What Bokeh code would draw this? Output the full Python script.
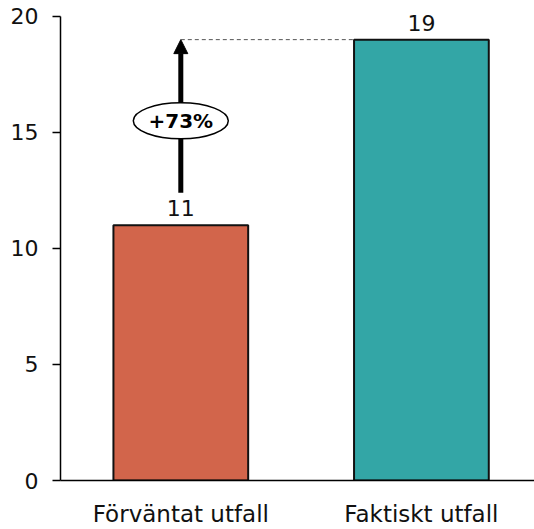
from bokeh.plotting import figure
from bokeh.models import Range1d, FixedTicker, Arrow, NormalHead, ColumnDataSource, LabelSet
from bokeh.core.properties import value
from bokeh.embed import file_html
from bokeh.resources import INLINE

categories = ["Förväntat utfall", "Faktiskt utfall"]
values = [11, 19]
colors = ["#D2654B", "#33A6A6"]
change_label = "+73%"
y_ticks = [0, 5, 10, 15, 20]

FONT = "DejaVu Sans"

xs = [i + 0.5 for i in range(len(categories))]
bar_width = 0.56

# a little headroom above 20 so the top value label is not clipped
p = figure(width=534, height=529, output_backend="svg", toolbar_location=None,
           x_range=Range1d(0, 1.97), y_range=Range1d(0, 20.6),
           min_border_left=60, min_border_right=0, min_border_top=2, min_border_bottom=49)
p.outline_line_color = None
p.grid.visible = False
p.background_fill_color = "white"
p.border_fill_color = "white"

src = ColumnDataSource(dict(x=xs, top=values, color=colors, label=[str(v) for v in values]))
p.vbar(x="x", top="top", width=bar_width, fill_color="color", line_color="#111111",
       line_width=2, source=src)

# value labels above bars
p.add_layout(LabelSet(x="x", y="top", text="label", source=src, text_align="center",
                      text_baseline="bottom", y_offset=9, text_font=value(FONT),
                      text_font_size=value("22px"), text_color="#111111"))

# dashed guide from the arrow tip to the second bar
p.segment(x0=[xs[0]], y0=[values[1]], x1=[xs[1] - bar_width / 2], y1=[values[1]],
          line_color="#555555", line_width=1, line_dash="4 3")

# growth arrow, kept beneath the percentage badge
p.add_layout(Arrow(x_start=xs[0], y_start=values[0] + 1.4, x_end=xs[0], y_end=values[1],
                   line_width=5, line_color="black", level="underlay",
                   end=NormalHead(size=14, fill_color="black", line_color="black")))

mid = (values[0] + 1.4 + values[1]) / 2 - 0.2
p.ellipse(x=[xs[0]], y=[mid], width=95, height=36, width_units="screen",
          height_units="screen", fill_color="white", line_color="black", line_width=1.5)
p.text(x=[xs[0]], y=[mid], text=[change_label], text_align="center",
       text_baseline="middle", text_font=value(FONT), text_font_style="bold",
       text_font_size="20px", text_color="black")

# axes
p.xaxis.ticker = FixedTicker(ticks=xs)
p.xaxis.major_label_overrides = {x: c for x, c in zip(xs, categories)}
p.xaxis.major_tick_line_color = None
p.xaxis.major_tick_out = 0
p.xaxis.major_tick_in = 0
p.xaxis.minor_tick_line_color = None
p.xaxis.axis_line_color = "black"
p.xaxis.axis_line_width = 1.5
p.xaxis.major_label_standoff = 20
p.xaxis.major_label_text_font = FONT
p.xaxis.major_label_text_font_size = "23px"
p.xaxis.major_label_text_color = "#111111"

p.yaxis.ticker = FixedTicker(ticks=y_ticks)
p.yaxis.bounds = (0, 20)
p.yaxis.minor_tick_line_color = None
p.yaxis.major_tick_out = 8
p.yaxis.major_tick_in = 0
p.yaxis.major_tick_line_color = "black"
p.yaxis.major_tick_line_width = 1.5
p.yaxis.axis_line_color = "black"
p.yaxis.axis_line_width = 1.5
p.yaxis.major_label_standoff = 14
p.yaxis.major_label_text_font = FONT
p.yaxis.major_label_text_font_size = "22px"
p.yaxis.major_label_text_color = "#111111"

open("out.html", "w").write(file_html(p, INLINE))
